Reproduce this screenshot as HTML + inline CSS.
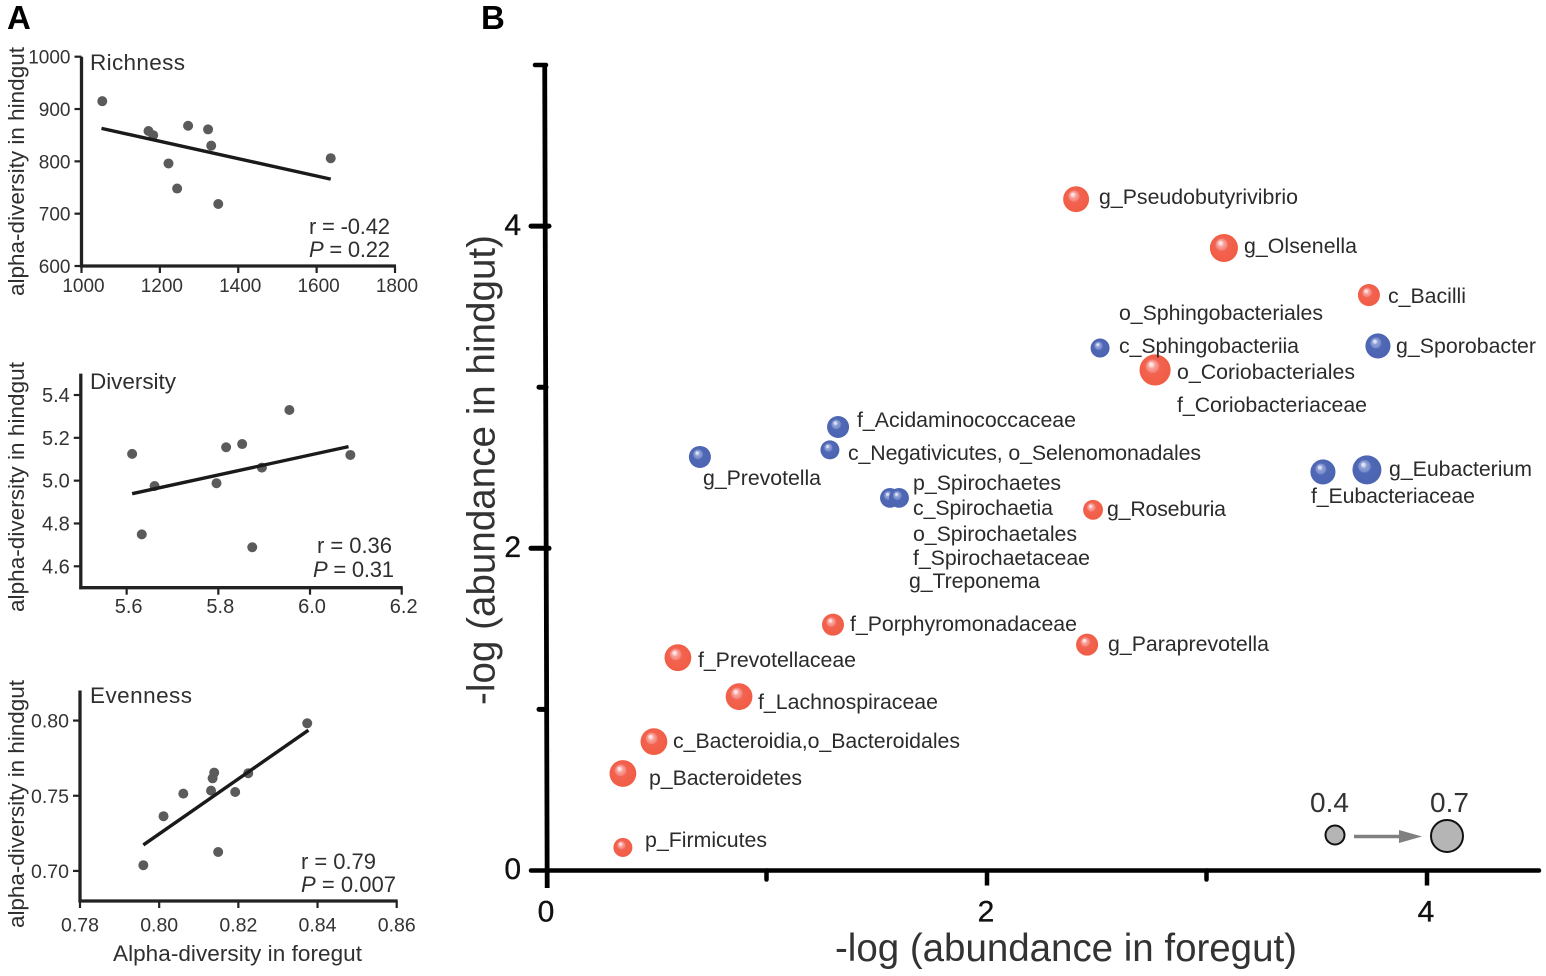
<!DOCTYPE html>
<html lang="en">
<head>
<meta charset="utf-8">
<title>Alpha-diversity and taxa abundance in foregut and hindgut</title>
<style>
  html, body { margin: 0; padding: 0; background: #fff; }
  svg { display: block; font-family: "Liberation Sans", Arial, sans-serif; }
  .tax { font-size: 21.3px; fill: #2b2b2b; }
  .small { font-size: 22.5px; fill: #2f2f2f; }
  .stat { font-size: 22px; fill: #2f2f2f; }
  .tick { fill: #333; }
  .btick { font-size: 30px; fill: #111; stroke: #111; stroke-width: .35px; }
</style>
</head>
<body>
<svg id="figure" width="1546" height="976" viewBox="0 0 1546 976" xmlns="http://www.w3.org/2000/svg">
  <defs>
    <radialGradient id="redBall" cx=".5" cy=".5" r=".55" fx=".36" fy=".3">
      <stop offset="0" stop-color="#fff0f0"/>
      <stop offset=".12" stop-color="#fdd8d6"/>
      <stop offset=".2" stop-color="#f8a39c"/>
      <stop offset=".36" stop-color="#f5847a"/>
      <stop offset=".42" stop-color="#f26350"/>
      <stop offset="1" stop-color="#f15c44"/>
    </radialGradient>
    <radialGradient id="blueBall" cx=".5" cy=".5" r=".55" fx=".36" fy=".3">
      <stop offset="0" stop-color="#eef1fa"/>
      <stop offset=".12" stop-color="#ccd4ee"/>
      <stop offset=".2" stop-color="#8f9fd6"/>
      <stop offset=".36" stop-color="#7a8dcb"/>
      <stop offset=".42" stop-color="#5069b6"/>
      <stop offset="1" stop-color="#4b63b0"/>
    </radialGradient>
  </defs>

  <text x="7" y="29" font-size="33" font-weight="bold" fill="#000">A</text>
  <text x="481" y="29" font-size="33" font-weight="bold" fill="#000">B</text>

  <g id="panelA"></g>

  <g id="panelAText">
    <text class="small" x="90" y="70" textLength="95">Richness</text>
    <text class="small" transform="translate(24,296) rotate(-90)" textLength="249">alpha-diversity in hindgut</text>
    <text class="stat" x="309" y="234" textLength="81">r = -0.42</text>
    <text class="stat" x="309" y="257" textLength="81"><tspan font-style="italic">P</tspan> = 0.22</text>

    <text class="small" x="90" y="389" textLength="86">Diversity</text>
    <text class="small" transform="translate(24,612) rotate(-90)" textLength="250">alpha-diversity in hindgut</text>
    <text class="stat" x="317" y="553" textLength="75">r = 0.36</text>
    <text class="stat" x="313" y="577" textLength="81"><tspan font-style="italic">P</tspan> = 0.31</text>

    <text class="small" x="90" y="703" textLength="102">Evenness</text>
    <text class="small" transform="translate(24,928) rotate(-90)" textLength="248">alpha-diversity in hindgut</text>
    <text class="stat" x="301" y="869" textLength="75">r = 0.79</text>
    <text class="stat" x="301" y="892" textLength="95"><tspan font-style="italic">P</tspan> = 0.007</text>
    <text class="small" x="113" y="961" textLength="249">Alpha-diversity in foregut</text>
  </g>

  <g id="panelB"></g>

  <g id="taxaLabels">
    <text class="tax" x="1099" y="204" textLength="199">g_Pseudobutyrivibrio</text>
    <text class="tax" x="1244" y="253" textLength="113">g_Olsenella</text>
    <text class="tax" x="1388" y="303" textLength="78">c_Bacilli</text>
    <text class="tax" x="1119" y="320" textLength="204">o_Sphingobacteriales</text>
    <text class="tax" x="1119" y="353" textLength="180">c_Sphingobacteriia</text>
    <text class="tax" x="1396" y="353" textLength="140">g_Sporobacter</text>
    <text class="tax" x="1177" y="379" textLength="178">o_Coriobacteriales</text>
    <text class="tax" x="1177" y="412" textLength="190">f_Coriobacteriaceae</text>
    <text class="tax" x="857" y="427" textLength="219">f_Acidaminococcaceae</text>
    <text class="tax" x="848" y="460" textLength="353">c_Negativicutes, o_Selenomonadales</text>
    <text class="tax" x="703" y="485" textLength="118">g_Prevotella</text>
    <text class="tax" x="1389" y="476" textLength="143">g_Eubacterium</text>
    <text class="tax" x="1311" y="503" textLength="164">f_Eubacteriaceae</text>
    <text class="tax" x="913" y="490" textLength="148">p_Spirochaetes</text>
    <text class="tax" x="913" y="515" textLength="140">c_Spirochaetia</text>
    <text class="tax" x="1107" y="516" textLength="119">g_Roseburia</text>
    <text class="tax" x="913" y="541" textLength="164">o_Spirochaetales</text>
    <text class="tax" x="913" y="565" textLength="177">f_Spirochaetaceae</text>
    <text class="tax" x="909" y="588" textLength="131">g_Treponema</text>
    <text class="tax" x="850" y="631" textLength="227">f_Porphyromonadaceae</text>
    <text class="tax" x="1108" y="651" textLength="161">g_Paraprevotella</text>
    <text class="tax" x="698" y="667" textLength="158">f_Prevotellaceae</text>
    <text class="tax" x="758" y="709" textLength="180">f_Lachnospiraceae</text>
    <text class="tax" x="673" y="748" textLength="287">c_Bacteroidia,o_Bacteroidales</text>
    <text class="tax" x="649" y="785" textLength="153">p_Bacteroidetes</text>
    <text class="tax" x="645" y="847" textLength="122">p_Firmicutes</text>
  </g>

  <text x="835" y="961" font-size="38.5" fill="#333" textLength="462">-log (abundance in foregut)</text>
  <text transform="translate(494.5,705) rotate(-90)" font-size="38.5" fill="#333" textLength="470">-log (abundance in hindgut)</text>

  <g>
    <text x="1310" y="812" font-size="28" fill="#333">0.4</text>
    <text x="1430" y="812" font-size="28" fill="#333">0.7</text>
    <line x1="1354" y1="836.5" x2="1408" y2="836.5" stroke="#808080" stroke-width="3.5"/>
    <polygon points="1399,830 1422,836.5 1399,843" fill="#808080"/>
    <g id="sizeLegendCircles"></g>
  </g>
</svg>

<script>
// ---- Panel A data ----
const richnessForegut = [1053, 1171, 1183, 1272, 1323, 1331, 1222, 1244, 1349, 1636];
const richnessHindgut = [915, 858, 850, 868, 861, 830, 796, 748, 718.5, 806];
const richnessFitX = [1051, 1636];
const richnessFitY = [863, 766];
const richnessXTicks = [1000, 1200, 1400, 1600, 1800];
const richnessYTicks = [600, 700, 800, 900, 1000];

const diversityForegut = [5.612, 5.633, 5.661, 5.796, 5.817, 5.852, 5.895, 5.874, 5.955, 6.088];
const diversityHindgut = [5.125, 4.749, 4.975, 4.988, 5.156, 5.171, 5.061, 4.689, 5.330, 5.120];
const diversityFitX = [5.612, 6.084];
const diversityFitY = [4.939, 5.159];
const diversityXTicks = ["5.6", "5.8", "6.0", "6.2"];
const diversityYTicks = ["4.6", "4.8", "5.0", "5.2", "5.4"];

const evennessForegut = [0.796, 0.8011, 0.8061, 0.8131, 0.8135, 0.8139, 0.8192, 0.8225, 0.8149, 0.8374];
const evennessHindgut = [0.7038, 0.7364, 0.7514, 0.7534, 0.7616, 0.7654, 0.7525, 0.7650, 0.7126, 0.7982];
const evennessFitX = [0.796, 0.8377];
const evennessFitY = [0.7173, 0.7936];
const evennessXTicks = ["0.78", "0.80", "0.82", "0.84", "0.86"];
const evennessYTicks = ["0.70", "0.75", "0.80"];

// ---- Panel B data ----
const redTaxa = ["pseudobutyrivibrio", "olsenella", "bacilli", "coriobacteriales", "roseburia", "porphyromonadaceae", "paraprevotella", "prevotellaceae", "lachnospiraceae", "bacteroidia", "bacteroidetes", "firmicutes"];
const redForegut = [2.405, 3.077, 3.736, 2.764, 2.482, 1.300, 2.455, 0.595, 0.873, 0.486, 0.345, 0.345];
const redHindgut = [4.167, 3.864, 3.572, 3.107, 2.239, 1.526, 1.402, 1.321, 1.079, 0.800, 0.602, 0.143];
const redSize = [0.56, 0.61, 0.47, 0.68, 0.42, 0.47, 0.47, 0.58, 0.58, 0.58, 0.58, 0.40];

const blueTaxa = ["sphingobacteriia", "sporobacter", "acidaminococcaceae", "negativicutes", "prevotella", "spirochaetes-a", "spirochaetes-b", "eubacteriaceae", "eubacterium"];
const blueForegut = [2.514, 3.777, 1.323, 1.286, 0.695, 1.559, 1.600, 3.527, 3.727];
const blueHindgut = [3.243, 3.256, 2.753, 2.611, 2.567, 2.313, 2.313, 2.474, 2.487];
const blueSize = [0.40, 0.54, 0.47, 0.40, 0.47, 0.42, 0.42, 0.54, 0.63];

const bMajorTicks = [0, 2, 4];
const bXMinorTicks = [1, 3];
const bYMinorTicks = [1, 3];
const bYTopValue = 5;
const sizeLegendValues = [0.4, 0.7];

// ---- Helpers ----
const SVGNS = "http://www.w3.org/2000/svg";
function make(tag, parent, attrs) {
  const el = document.createElementNS(SVGNS, tag);
  for (const k in attrs) el.setAttribute(k, attrs[k]);
  parent.appendChild(el);
  return el;
}
function scale(d0, d1, r0, r1) {
  return function (v) { return r0 + (Number(v) - d0) / (d1 - d0) * (r1 - r0); };
}
// Bubble radius from the value encoded by the size legend
const radius = scale(0.4, 0.7, 9.5, 16);

function drawPanel(key, g, o) {
  const sx = scale(o.xd[0], o.xd[1], o.xr[0], o.xr[1]);
  const sy = scale(o.yd[0], o.yd[1], o.yr[0], o.yr[1]);
  const xAxisY = o.yr[0], yAxisX = o.xr[0];

  const yAxis = make("line", g, { x1: yAxisX, y1: o.yr[1], x2: yAxisX, y2: xAxisY + 1.5, stroke: "#222", "stroke-width": 3.3 });
  
  
  const xAxis = make("line", g, { x1: yAxisX - 1.5, y1: xAxisY, x2: o.xr[1] + 1, y2: xAxisY, stroke: "#222", "stroke-width": 3.3 });
  
  

  o.xTicks.forEach(function (t) {
    const px = sx(t);
    const tk = make("line", g, { x1: px, y1: xAxisY, x2: px, y2: xAxisY + 7, stroke: "#222", "stroke-width": 2.2 });
    
    
    const lb = make("text", g, { x: px + o.xLabelShift, y: xAxisY + o.xLabelDrop, "text-anchor": "middle", "font-size": o.fs, class: "tick" });
    
    
    lb.textContent = t;
  });
  o.yTicks.forEach(function (t) {
    const py = sy(t);
    const tk = make("line", g, { x1: yAxisX - 7, y1: py, x2: yAxisX, y2: py, stroke: "#222", "stroke-width": 2.2 });
    
    
    const lb = make("text", g, { x: yAxisX - 11, y: py + 7, "text-anchor": "end", "font-size": o.fs, class: "tick" });
    
    
    lb.textContent = t;
  });

  o.px.forEach(function (v, i) {
    const c = make("circle", g, { cx: sx(v), cy: sy(o.py[i]), r: 5, fill: "#5b5b5b" });
    
    
  });

  const fit = make("line", g, { x1: sx(o.fx[0]), y1: sy(o.fy[0]), x2: sx(o.fx[1]), y2: sy(o.fy[1]), stroke: "#1a1a1a", "stroke-width": 3.4 });
  
  
}

const panelA = document.getElementById("panelA");
drawPanel("richness", panelA, {
  xd: [1000, 1800], xr: [81.5, 395], yd: [600, 1000], yr: [266, 56.7],
  xTicks: richnessXTicks, yTicks: richnessYTicks, px: richnessForegut, py: richnessHindgut,
  fx: richnessFitX, fy: richnessFitY, fs: 19, xLabelDrop: 26, xLabelShift: 2
});
drawPanel("diversity", panelA, {
  xd: [5.5, 6.2], xr: [80.8, 401.7], yd: [4.5, 5.5], yr: [587.7, 373.6],
  xTicks: diversityXTicks, yTicks: diversityYTicks, px: diversityForegut, py: diversityHindgut,
  fx: diversityFitX, fy: diversityFitY, fs: 20, xLabelDrop: 25.5, xLabelShift: 2
});
drawPanel("evenness", panelA, {
  xd: [0.78, 0.86], xr: [80, 396.7], yd: [0.68, 0.82], yr: [901, 690.5],
  xTicks: evennessXTicks, yTicks: evennessYTicks, px: evennessForegut, py: evennessHindgut,
  fx: evennessFitX, fy: evennessFitY, fs: 19.5, xLabelDrop: 30.5, xLabelShift: 0
});

// ---- Panel B ----
const panelB = document.getElementById("panelB");
const bx = scale(0, 4, 547, 1427);
const by = scale(0, 5, 870.5, 65);

const bYAxis = make("line", panelB, { x1: 544.7, y1: by(5) - 2, x2: 547.2, y2: 888, stroke: "#000", "stroke-width": 4.8 });


const bXAxis = make("line", panelB, { x1: 531, y1: by(0), x2: 1539, y2: by(0), stroke: "#000", "stroke-width": 4.5, "stroke-linecap": "round" });



bMajorTicks.forEach(function (t) {
  if (t > 0) {
    const xt = make("line", panelB, { x1: bx(t), y1: by(0), x2: bx(t), y2: by(0) + 15, stroke: "#000", "stroke-width": 4.5 });
    
    
    const yt = make("line", panelB, { x1: 531, y1: by(t), x2: 549, y2: by(t), stroke: "#000", "stroke-width": 5, "stroke-linecap": "round" });
    
    
  }
  const xl = make("text", panelB, { x: bx(t) - 1, y: 921.5, "text-anchor": "middle", class: "btick" });
  
  
  xl.textContent = t;
  const yl = make("text", panelB, { x: 521, y: by(t) + 8.7, "text-anchor": "end", class: "btick" });
  
  
  yl.textContent = t;
});
bXMinorTicks.forEach(function (t) {
  const m = make("line", panelB, { x1: bx(t) - 0.5, y1: by(0), x2: bx(t) - 0.5, y2: by(0) + 9, stroke: "#000", "stroke-width": 4.5, "stroke-linecap": "round" });
  
  
});
bYMinorTicks.forEach(function (t) {
  const m = make("line", panelB, { x1: 539, y1: by(t), x2: 546, y2: by(t), stroke: "#000", "stroke-width": 5, "stroke-linecap": "round" });
  
  
});
const topCap = make("line", panelB, { x1: 535, y1: by(bYTopValue), x2: 546, y2: by(bYTopValue), stroke: "#000", "stroke-width": 4.5, "stroke-linecap": "round" });



function drawBubbles(names, xs, ys, sizes, grad) {
  xs.forEach(function (v, i) {
    const c = make("circle", panelB, { cx: bx(v), cy: by(ys[i]), r: radius(sizes[i]), fill: "url(#" + grad + ")" });
    
    
  });
}
drawBubbles(blueTaxa, blueForegut, blueHindgut, blueSize, "blueBall");
drawBubbles(redTaxa, redForegut, redHindgut, redSize, "redBall");

// ---- Size legend ----
const legendGroup = document.getElementById("sizeLegendCircles");
sizeLegendValues.forEach(function (v, i) {
  const c = make("circle", legendGroup, { cx: i === 0 ? 1335 : 1447, cy: i === 0 ? 835 : 836, r: radius(v), fill: "#b5b5b5", stroke: "#111", "stroke-width": 2 });
  
  
});
</script>
</body>
</html>
